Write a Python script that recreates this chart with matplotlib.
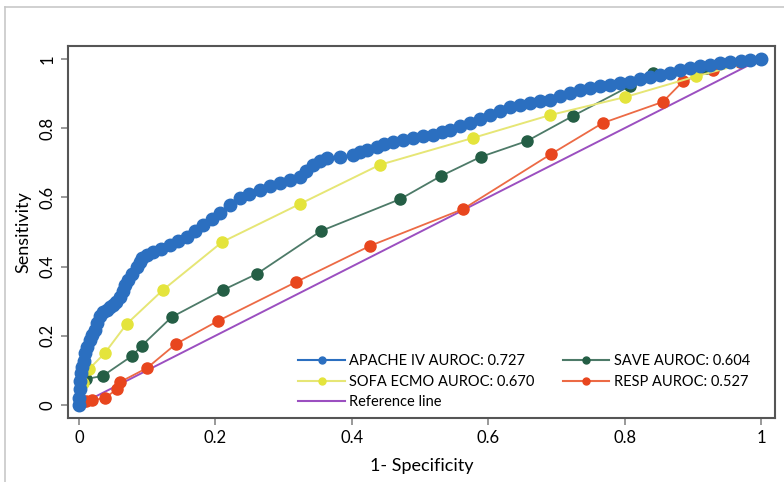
"""ROC curves for APACHE IV, SOFA ECMO, SAVE and RESP scores."""

import matplotlib

matplotlib.use("Agg")

import matplotlib.pyplot as plt  # noqa: E402
from matplotlib.lines import Line2D  # noqa: E402

plt.rcParams["font.family"] = ["Lato", "DejaVu Sans"]

# 1 - specificity / sensitivity
apache_x = [0.000, 0.000, 0.001, 0.002, 0.003, 0.005, 0.007, 0.009, 0.012, 0.016,
            0.019, 0.023, 0.027, 0.031, 0.036, 0.041, 0.046, 0.050, 0.055, 0.060,
            0.064, 0.068, 0.072, 0.078, 0.085, 0.089, 0.092, 0.100, 0.109, 0.120,
            0.133, 0.145, 0.158, 0.170, 0.182, 0.195, 0.207, 0.222, 0.236, 0.250,
            0.265, 0.280, 0.295, 0.310, 0.324, 0.333, 0.343, 0.354, 0.364, 0.383,
            0.402, 0.412, 0.422, 0.437, 0.448, 0.460, 0.475, 0.490, 0.505, 0.519,
            0.532, 0.544, 0.558, 0.573, 0.588, 0.603, 0.618, 0.632, 0.647, 0.661,
            0.676, 0.691, 0.705, 0.720, 0.735, 0.749, 0.764, 0.779, 0.793, 0.808,
            0.822, 0.837, 0.852, 0.867, 0.881, 0.896, 0.910, 0.925, 0.940, 0.955,
            0.970, 0.984, 1.000]
apache_y = [0.000, 0.020, 0.045, 0.070, 0.092, 0.110, 0.128, 0.150, 0.168, 0.188,
            0.202, 0.217, 0.238, 0.257, 0.268, 0.275, 0.283, 0.289, 0.298, 0.312,
            0.330, 0.346, 0.361, 0.380, 0.399, 0.413, 0.425, 0.434, 0.442, 0.450,
            0.462, 0.474, 0.486, 0.503, 0.520, 0.538, 0.555, 0.578, 0.598, 0.610,
            0.621, 0.632, 0.642, 0.650, 0.659, 0.676, 0.694, 0.705, 0.714, 0.717,
            0.723, 0.730, 0.737, 0.746, 0.754, 0.760, 0.766, 0.772, 0.776, 0.780,
            0.788, 0.795, 0.805, 0.815, 0.827, 0.838, 0.850, 0.861, 0.868, 0.873,
            0.878, 0.882, 0.892, 0.902, 0.909, 0.916, 0.921, 0.925, 0.930, 0.934,
            0.941, 0.948, 0.954, 0.960, 0.967, 0.974, 0.979, 0.983, 0.987, 0.991,
            0.995, 0.998, 1.000]

sofa_x = [0.000, 0.006, 0.015, 0.038, 0.070, 0.123, 0.210, 0.324, 0.441, 0.578,
          0.691, 0.801, 0.905, 1.000]
sofa_y = [0.000, 0.064, 0.104, 0.150, 0.234, 0.332, 0.471, 0.581, 0.694, 0.772,
          0.838, 0.890, 0.950, 1.000]

save_x = [0.000, 0.010, 0.035, 0.078, 0.092, 0.136, 0.211, 0.261, 0.355, 0.471,
          0.531, 0.589, 0.657, 0.724, 0.808, 0.842, 0.920, 1.000]
save_y = [0.000, 0.075, 0.084, 0.142, 0.171, 0.254, 0.332, 0.379, 0.503, 0.595,
          0.662, 0.717, 0.763, 0.835, 0.922, 0.960, 0.975, 1.000]

resp_x = [0.000, 0.004, 0.010, 0.019, 0.038, 0.056, 0.060, 0.100, 0.142, 0.204,
          0.318, 0.427, 0.563, 0.692, 0.768, 0.856, 0.886, 0.930, 0.969, 1.000]
resp_y = [0.000, 0.008, 0.012, 0.014, 0.020, 0.046, 0.066, 0.107, 0.176, 0.243,
          0.355, 0.460, 0.566, 0.725, 0.815, 0.876, 0.936, 0.968, 0.991, 1.000]

ref_x = [0, 1]
ref_y = [0, 1]

ticks = [0, 0.2, 0.4, 0.6, 0.8, 1]
tick_labels = ["0", "0.2", "0.4", "0.6", "0.8", "1"]

fig = plt.figure(figsize=(7.84, 4.82), dpi=100)
ax = fig.add_axes([0.0867, 0.1328, 0.9018, 0.7718])

# moldura cinza clara da figura original
fig.add_artist(Line2D([5 / 784, 1], [1 - 7 / 482, 1 - 7 / 482],
                      color="#c8c8c8", linewidth=1.2, transform=fig.transFigure))
fig.add_artist(Line2D([5 / 784, 5 / 784], [0, 1 - 7 / 482],
                      color="#c8c8c8", linewidth=1.2, transform=fig.transFigure))

ax.plot(ref_x, ref_y, color="#9b4fc0", linewidth=1.4, label="Reference line", zorder=2)
ax.plot(resp_x, resp_y, color="#ec6a45", linewidth=1.3, marker="o", markersize=8,
        markerfacecolor="#e8461e", markeredgecolor="#e8461e",
        label="RESP AUROC: 0.527", zorder=3)
ax.plot(save_x, save_y, color="#4d7a68", linewidth=1.3, marker="o", markersize=8,
        markerfacecolor="#245e45", markeredgecolor="#245e45",
        label="SAVE AUROC: 0.604", zorder=4)
ax.plot(sofa_x, sofa_y, color="#e6e675", linewidth=1.4, marker="o", markersize=8,
        markerfacecolor="#e4e43c", markeredgecolor="#e4e43c",
        label="SOFA ECMO AUROC: 0.670", zorder=5)
ax.plot(apache_x, apache_y, color="#2b6fc0", linewidth=1.5, marker="o", markersize=9,
        markerfacecolor="#2b6fc0", markeredgecolor="#2b6fc0",
        label="APACHE IV AUROC: 0.727", zorder=6)

ax.set_xlim(-0.016, 1.0205)
ax.set_ylim(-0.0376, 1.0376)
ax.set_xticks(ticks)
ax.set_xticklabels(tick_labels, fontsize=12)
ax.set_yticks(ticks)
ax.set_yticklabels(tick_labels, fontsize=12, rotation=90, va="center")
ax.tick_params(direction="out", length=5, width=1.2, color="#888888", pad=4)
for spine in ax.spines.values():
    spine.set_color("#555555")
    spine.set_linewidth(1.5)

ax.set_xlabel("1- Specificity", fontsize=13, labelpad=8)
ax.set_ylabel("Sensitivity", fontsize=13, labelpad=6)

handles, labels = ax.get_legend_handles_labels()
order = ["APACHE IV AUROC: 0.727", "SOFA ECMO AUROC: 0.670", "Reference line",
         "SAVE AUROC: 0.604", "RESP AUROC: 0.527"]
by_label = dict(zip(labels, handles))
leg_handles = []
for name in order:
    h = by_label[name]
    leg_handles.append(Line2D([], [], color=h.get_color(), linewidth=1.5,
                              marker=h.get_marker() if h.get_marker() != "None" else None,
                              markersize=5, markerfacecolor=h.get_markerfacecolor(),
                              markeredgecolor=h.get_markeredgecolor()))
ax.legend(leg_handles, order, ncol=2, loc="lower right", frameon=False, fontsize=10.5,
          handlelength=3.2, handletextpad=0.3, columnspacing=1.9, labelspacing=0.45,
          bbox_to_anchor=(0.983, -0.012))

fig.savefig("out.png", dpi=100)
